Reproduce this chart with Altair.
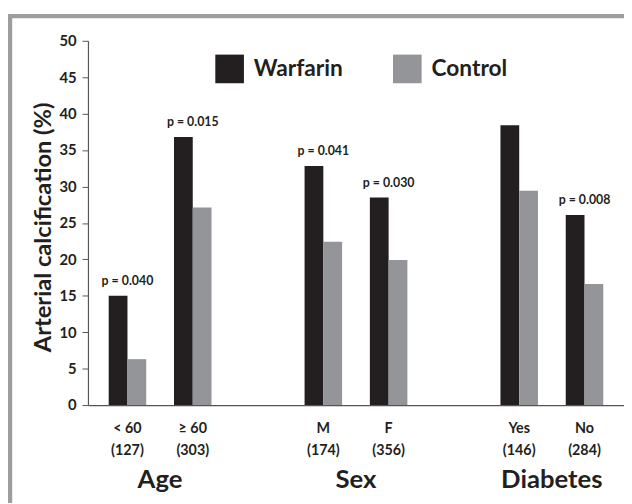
import altair as alt
import pandas as pd

# ---- data ----
slots = ["< 60|(127)", "≥ 60|(303)", "gap1", "M|(174)", "F|(356)", "gap2", "Yes|(146)", "No|(284)"]
categories = ["< 60|(127)", "≥ 60|(303)", "M|(174)", "F|(356)", "Yes|(146)", "No|(284)"]
warfarin = [15.0, 36.8, 32.8, 28.5, 38.4, 26.1]
control = [6.3, 27.1, 22.4, 19.9, 29.4, 16.6]
p_values = ["p = 0.040", "p = 0.015", "p = 0.041", "p = 0.030", "", "p = 0.008"]
groups = ["Age", "Sex", "Diabetes"]
group_first = ["< 60|(127)", "M|(174)", "Yes|(146)"]
series = ["Warfarin", "Control"]
colors = ["#231f20", "#939598"]
y_ticks = [0, 5, 10, 15, 20, 25, 30, 35, 40, 45, 50]
y_title = ["Arterial calcification (%)"]

FONT = "Lato"

bars_df = pd.DataFrame(
    [{"cat": c, "series": "Warfarin", "value": w} for c, w in zip(categories, warfarin)]
    + [{"cat": c, "series": "Control", "value": v} for c, v in zip(categories, control)]
)
p_df = pd.DataFrame({"cat": categories, "value": warfarin, "p": p_values})
g_df = pd.DataFrame({"cat": group_first, "group": groups})
t_df = pd.DataFrame({"t": y_title})

xscale = alt.Scale(domain=slots, paddingInner=0, paddingOuter=0.105)
yscale = alt.Scale(domain=[0, 50])

x_axis = alt.Axis(
    title=None,
    labelAngle=0,
    ticks=False,
    domainColor="#555555",
    domainWidth=1.2,
    labelExpr="indexof(datum.label,'|')>=0 ? split(datum.label,'|') : ''",
    labelFont=FONT,
    labelFontSize=14.5,
    labelFontWeight="bold",
    labelColor="#231f20",
    labelPadding=17,
    labelLineHeight=22,
)

y_axis = alt.Axis(
    title=None,
    values=y_ticks,
    grid=False,
    tickSize=6,
    tickColor="#555555",
    domainColor="#555555",
    domainWidth=1.2,
    labelFont=FONT,
    labelFontSize=15,
    labelFontWeight="bold",
    labelColor="#231f20",
    labelPadding=6,
    labelOverlap=False,
)

bars = alt.Chart(bars_df).mark_bar().encode(
    x=alt.X("cat:N", scale=xscale, axis=x_axis),
    xOffset=alt.XOffset("series:N", sort=series, scale=alt.Scale(paddingInner=0, paddingOuter=0.74)),
    y=alt.Y("value:Q", scale=yscale, axis=y_axis),
    color=alt.Color(
        "series:N",
        sort=series,
        scale=alt.Scale(domain=series, range=colors),
        legend=alt.Legend(
            title=None,
            orient="none",
            legendX=129,
            legendY=14,
            direction="horizontal",
            symbolType="square",
            symbolSize=841,
            symbolStrokeWidth=0,
            symbolOpacity=1,
            labelFont=FONT,
            labelFontSize=23,
            labelFontWeight="bold",
            labelColor="#231f20",
            labelOffset=10,
            columnPadding=50,
        ),
    ),
)

ptext = alt.Chart(p_df).mark_text(
    font=FONT, fontSize=12.5, fontWeight="bold", color="#231f20", baseline="middle", dy=-15
).encode(
    x=alt.X("cat:N", scale=xscale, axis=x_axis),
    y=alt.Y("value:Q", scale=yscale, axis=y_axis),
    text="p:N",
)

gtext = alt.Chart(g_df).mark_text(
    font=FONT, fontSize=26, fontWeight="bold", color="#231f20", baseline="middle", dx=33
).encode(
    x=alt.X("cat:N", scale=xscale, axis=x_axis),
    y=alt.value(445),
    text="group:N",
)

ytitle = alt.Chart(t_df).mark_text(
    font=FONT, fontSize=24, fontWeight="bold", color="#231f20",
    baseline="middle", align="center", angle=270
).encode(
    x=alt.value(-44),
    y=alt.value(189),
    text="t:N",
)

frame_left = alt.Chart(pd.DataFrame({"k": [0]})).mark_rule(
    color="#9d9d9d", strokeWidth=4.5
).encode(x=alt.value(-79), y=alt.value(-27), y2=alt.value(470))

frame_top = alt.Chart(pd.DataFrame({"k": [0]})).mark_rule(
    color="#9d9d9d", strokeWidth=4.5
).encode(x=alt.value(-81), x2=alt.value(545), y=alt.value(-25))

chart = (
    alt.layer(frame_left, frame_top, bars, ptext, gtext, ytitle)
    .properties(
        width=543,
        height=369,
        autosize=alt.AutoSizeParams(type="none"),
        padding={"left": 81, "top": 30, "right": 0, "bottom": 96},
    )
    .configure_view(stroke=None)
)

chart.save("out.html", embed_options={"renderer": "svg", "actions": False})
